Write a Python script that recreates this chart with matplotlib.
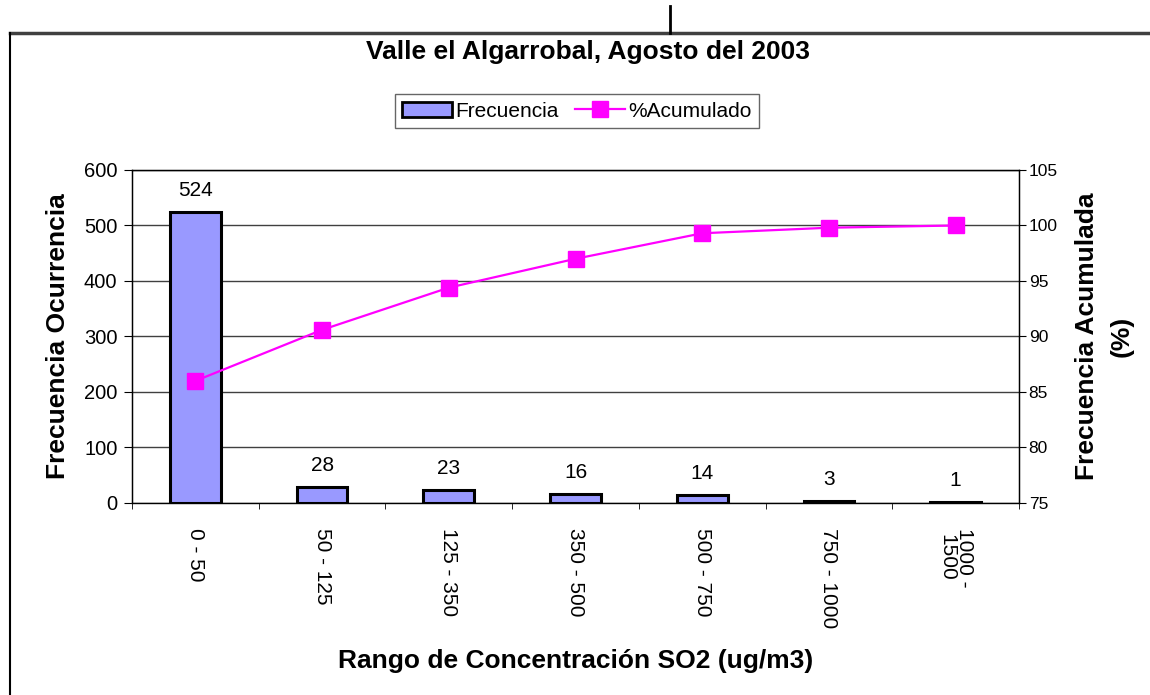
import matplotlib.pyplot as plt
from matplotlib.lines import Line2D

plt.rcParams['font.family'] = ['Liberation Sans', 'DejaVu Sans']

rangos = ['0 - 50', '50 - 125', '125 - 350', '350 - 500', '500 - 750', '750 - 1000', '1000 -\n1500']
frecuencia = [524, 28, 23, 16, 14, 3, 1]
acumulado = [86.0, 90.6, 94.4, 97.0, 99.3, 99.8, 100.0]

fig = plt.figure(figsize=(11.5, 6.95), dpi=100)
ax = fig.add_axes([0.1148, 0.2763, 0.7713, 0.4791])

x = list(range(len(rangos)))
ax.bar(x, frecuencia, width=0.4, color='#9999FF', edgecolor='black', linewidth=2.2, zorder=3, label='Frecuencia')
for xi, v in zip(x, frecuencia):
	ax.annotate(str(v), (xi, v), xytext=(0, 9), textcoords='offset points', ha='center', va='bottom', fontsize=15)

ax.set_xlim(-0.5, len(rangos) - 0.5)
ax.set_ylim(0, 600)
ax.set_yticks(range(0, 601, 100))
ax.set_xticks([i - 0.5 for i in range(len(rangos) + 1)], minor=True)
ax.set_xticks(x)
ax.set_xticklabels(rangos, rotation=-90, va='top', ha='center', fontsize=15, linespacing=0.85)
ax.tick_params(axis='x', which='major', length=0, pad=18)
ax.tick_params(axis='x', which='minor', length=4, direction='out', color='black')
ax.tick_params(axis='y', length=5.5, direction='out', labelsize=14.5, pad=5)
ax.yaxis.grid(True, color='#404040', linewidth=1)
ax.set_axisbelow(True)
for s in ax.spines.values():
	s.set_color('black')
	s.set_linewidth(1)
ax.spines['bottom'].set_color('#404040')

ax.set_ylabel('Frecuencia Ocurrencia', fontsize=19, fontweight='bold', labelpad=10)
ax.set_xlabel('Rango de Concentración SO2 (ug/m3)', fontsize=19, fontweight='bold', labelpad=15)

ax2 = ax.twinx()
ax2.plot(x, acumulado, color='#FF00FF', linewidth=1.6, marker='s', markersize=11.5, zorder=4)
ax2.set_ylim(75, 105)
ax2.set_yticks(range(75, 106, 5))
ax2.tick_params(axis='y', length=5, direction='out', labelsize=12.5, pad=2)
ax2.spines['right'].set_color('black')
ax2.set_ylabel('Frecuencia Acumulada\n(%)', fontsize=19, fontweight='bold', rotation=90, labelpad=12, linespacing=1.6)

fig.suptitle('Valle el Algarrobal, Agosto del 2003', x=0.511, y=0.942, fontsize=19, fontweight='bold')

handles = [plt.Rectangle((0, 0), 1, 1, facecolor='#9999FF', edgecolor='black', linewidth=2),
	Line2D([], [], color='#FF00FF', linewidth=1.6, marker='s', markersize=11.5)]
leg = fig.legend(handles, ['Frecuencia', '%Acumulado'], loc='center', bbox_to_anchor=(0.5015, 0.84), ncol=2,
	fontsize=15, frameon=True, fancybox=False, handlelength=2.4, handletextpad=0.15, columnspacing=0.8,
	borderpad=0.35)
leg.get_frame().set_edgecolor('#404040')
leg.get_frame().set_linewidth(1)

# marco exterior
fig.add_artist(Line2D([10 / 1150, 1], [1 - 33 / 695, 1 - 33 / 695], color='#404040', linewidth=2.5, transform=fig.transFigure))
fig.add_artist(Line2D([10 / 1150, 10 / 1150], [0, 1 - 33 / 695], color='black', linewidth=1.5, transform=fig.transFigure))
fig.add_artist(Line2D([670 / 1150, 670 / 1150], [1 - 33 / 695, 1 - 6 / 695], color='black', linewidth=2, transform=fig.transFigure))

fig.savefig('out.png', dpi=100)
